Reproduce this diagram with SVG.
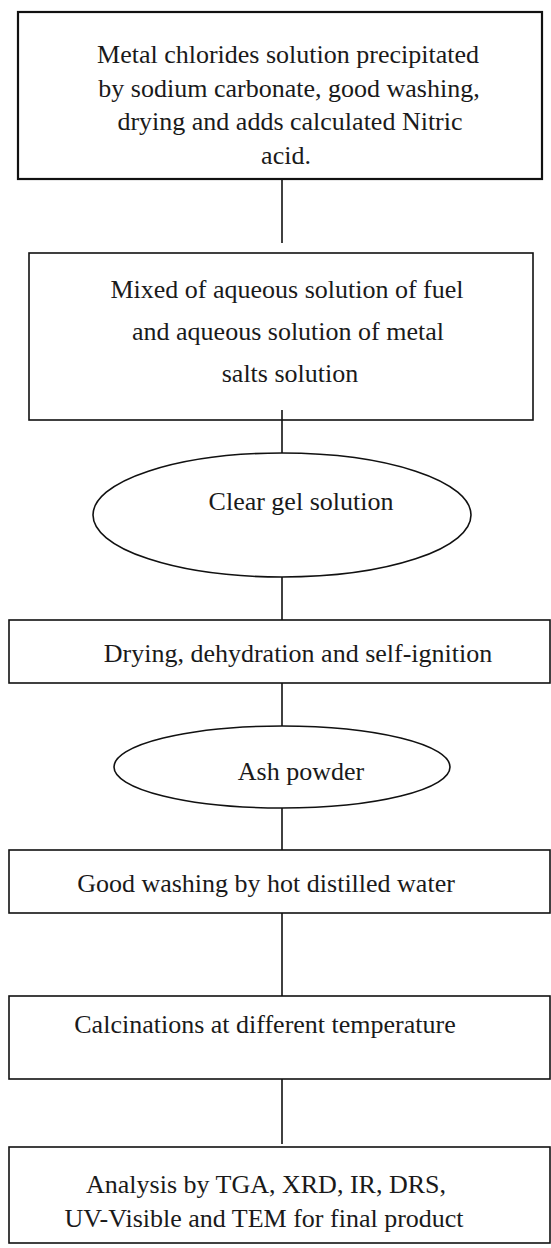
<svg xmlns="http://www.w3.org/2000/svg" width="551" height="1248" viewBox="0 0 551 1248">
<style>
.box{fill:#fff;stroke:#111;stroke-width:1.6}
.thick{stroke-width:2.2}
.ell{fill:#fff;stroke:#111;stroke-width:1.6}
.t{font-family:"Liberation Serif","Times New Roman",serif;font-size:26px;fill:#1a1a1a;text-anchor:middle}
.c{stroke:#111;stroke-width:1.6;fill:none}
</style>
<rect width="551" height="1248" fill="#fff"/>
<g id="connectors">
<line class="c" x1="282" y1="179" x2="282" y2="243"/>
<line class="c" x1="282" y1="410" x2="282" y2="453"/>
<line class="c" x1="282" y1="577" x2="282" y2="620"/>
<line class="c" x1="282" y1="683" x2="282" y2="726"/>
<line class="c" x1="282" y1="808" x2="282" y2="850"/>
<line class="c" x1="282" y1="913" x2="282" y2="996"/>
<line class="c" x1="282" y1="1079" x2="282" y2="1144"/>
</g>
<g id="n1">
<rect class="box thick" x="18" y="12" width="524" height="167"/>
<text class="t" x="288" y="63">Metal chlorides solution precipitated</text>
<text class="t" x="289" y="97">by sodium carbonate, good washing,</text>
<text class="t" x="290" y="130">drying and adds calculated Nitric</text>
<text class="t" x="286" y="164">acid.</text>
</g>
<g id="n2">
<rect class="box" x="29" y="253" width="504" height="167"/>
<text class="t" x="287" y="298">Mixed of aqueous solution of fuel</text>
<text class="t" x="288" y="340">and aqueous solution of metal</text>
<text class="t" x="290" y="382">salts solution</text>
</g>
<line class="c" x1="282" y1="410" x2="282" y2="420"/>
<g id="n3">
<ellipse class="ell" cx="282" cy="515" rx="189" ry="62"/>
<text class="t" x="301" y="510">Clear gel solution</text>
</g>
<g id="n4">
<rect class="box" x="9" y="620" width="541" height="63"/>
<text class="t" x="298" y="662">Drying, dehydration and self-ignition</text>
</g>
<g id="n5">
<ellipse class="ell" cx="282" cy="767" rx="168" ry="41"/>
<text class="t" x="301" y="780">Ash powder</text>
</g>
<g id="n6">
<rect class="box" x="9" y="850" width="541" height="63"/>
<text class="t" x="266" y="892">Good washing by hot distilled water</text>
</g>
<g id="n7">
<rect class="box" x="9" y="996" width="541" height="83"/>
<text class="t" x="265" y="1033">Calcinations at different temperature</text>
</g>
<g id="n8">
<rect class="box" x="9" y="1147" width="541" height="96"/>
<text class="t" x="266" y="1193">Analysis by TGA, XRD, IR, DRS,</text>
<text class="t" x="264" y="1227">UV-Visible and TEM for final product</text>
</g>
</svg>
